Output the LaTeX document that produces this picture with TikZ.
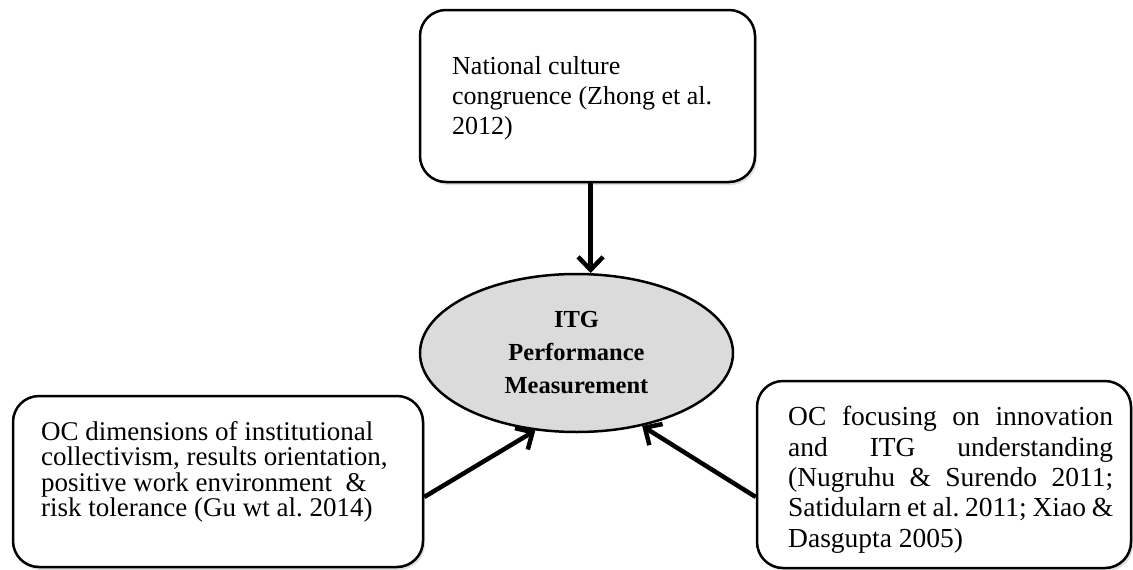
\documentclass[tikz,border=0pt]{standalone}
\usepackage{fontspec}
\setmainfont{Liberation Serif}
\frenchspacing
\usetikzlibrary{arrows.meta,shapes.geometric,shadows,calc}
\tikzset{
  box/.style={draw=black, line width=2.5pt, rounded corners=26pt, fill=white, inner sep=0pt,
    drop shadow={shadow xshift=2pt, shadow yshift=-3pt, opacity=0.25, fill=gray}},
  txt/.style={inner sep=0pt, align=left, font=\fontsize{26}{30}\selectfont},
  arr/.style={line width=4.5pt, -{Straight Barb[length=13pt,width=25pt]}},
}
\begin{document}
\begin{tikzpicture}[x=1pt,y=-1pt]
\useasboundingbox (0,0) rectangle (1133,570);
% boxes
\node[box, minimum width=335pt, minimum height=172pt] (tbox) at (587.5,96) {};
\node[box, minimum width=410pt, minimum height=171pt] (lbox) at (218,481.5) {};
\node[box, minimum width=374pt, minimum height=187pt] (rbox) at (944,474.5) {};
% ellipse
\node[ellipse, draw=black, line width=2.5pt, fill=black!14, inner sep=0pt,
      minimum width=313pt, minimum height=158pt, align=center,
      font=\fontsize{24.5}{33}\selectfont\bfseries] (ell) at (576.5,353)
      {ITG\\Performance\\Measurement};
% texts
\node[txt, anchor=west] (ttxt) at (452,98.4)
  {National culture\\congruence (Zhong et al.\\2012)};
\node[txt, anchor=west, font=\fontsize{27}{25.5}\selectfont] (ltxt) at (41,472)
  {OC dimensions of institutional\\collectivism, results orientation,\\positive work environment~~\&\\risk tolerance (Gu wt al. 2014)};
\node[txt, anchor=west, font=\fontsize{27.5}{30.4}\selectfont] (rtxt) at (788,479.7)
  {\makebox[325pt][s]{OC focusing on innovation}\\
   \makebox[325pt][s]{and ITG understanding}\\
   \makebox[325pt][s]{(Nugruhu \& Surendo 2011;}\\
   \makebox[325pt][s]{Satidularn et al. 2011; Xiao \&}\\
   Dasgupta 2005)};
% arrows
\draw[arr] (tbox.south -| ell.80) -- (ell.80);
\draw[arr] ($(lbox.east)+(0,15.5)$) -- (ell.242);
\draw[arr] ($(rbox.west)+(0,22.5)$) -- (ell.312);
\end{tikzpicture}
\end{document}
